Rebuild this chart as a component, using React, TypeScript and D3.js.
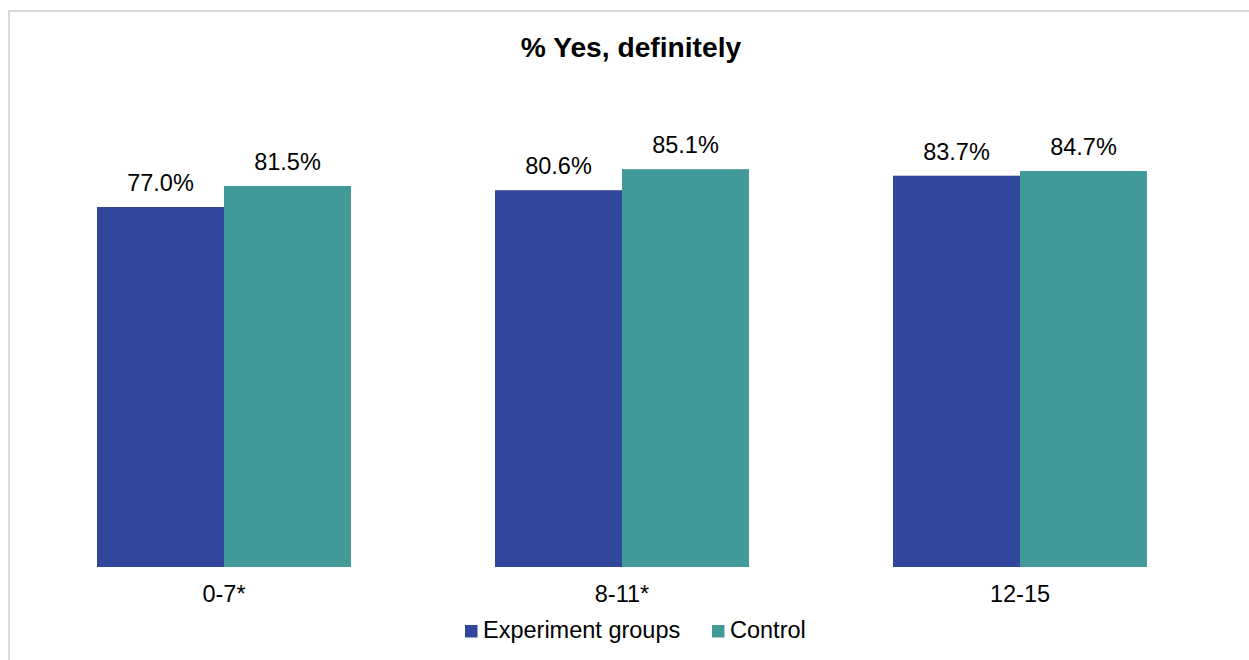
import React from "react";
import * as d3 from "d3";

const categories = ["0-7*", "8-11*", "12-15"];
const seriesNames = ["Experiment groups", "Control"];
const experimentValues = [77.0, 80.6, 83.7];
const controlValues = [81.5, 85.1, 84.7];
const colors = ["#30479B", "#429A98"];

const W = 1249;
const H = 660;
const FONT = "'Liberation Sans', Arial, Helvetica, sans-serif";

export default function App() {
  const x = d3
    .scaleBand<string>()
    .domain(categories)
    .range([25, 1219])
    .paddingInner(0.3618)
    .paddingOuter(0.1809);
  const sub = d3
    .scaleBand<string>()
    .domain(seriesNames)
    .range([0, x.bandwidth()])
    .padding(0);
  const y = d3.scaleLinear().domain([0, 100]).range([567, 99.5]);
  const series = [experimentValues, controlValues];

  return (
    <svg
      width={W}
      height={H}
      style={{ position: "absolute", left: 0, top: 0, background: "#fff" }}
      fontFamily={FONT}
    >
      <rect x={0} y={0} width={W} height={H} fill="#fff" />
      <line x1={8} x2={W} y1={11} y2={11} stroke="#d9d9d9" strokeWidth={2} />
      <line x1={9} x2={9} y1={10} y2={H} stroke="#d9d9d9" strokeWidth={2} />
      <text
        x={631}
        y={57}
        textAnchor="middle"
        fontSize={28.2}
        fontWeight="bold"
        fill="#000"
      >
        % Yes, definitely
      </text>
      {categories.map((c, i) => (
        <g key={c}>
          {seriesNames.map((s, j) => {
            const v = series[j][i];
            const bx = (x(c) ?? 0) + (sub(s) ?? 0);
            const bw = sub.bandwidth();
            return (
              <g key={s}>
                <rect
                  x={bx}
                  y={y(v)}
                  width={bw}
                  height={y(0) - y(v)}
                  fill={colors[j]}
                />
                <text
                  x={bx + bw / 2}
                  y={y(v) - 16}
                  textAnchor="middle"
                  fontSize={23.5}
                  fill="#000"
                >
                  {v.toFixed(1)}%
                </text>
              </g>
            );
          })}
          <text
            x={(x(c) ?? 0) + x.bandwidth() / 2}
            y={602}
            textAnchor="middle"
            fontSize={23.5}
            fill="#000"
          >
            {c}
          </text>
        </g>
      ))}
      {/* legend */}
      <g>
        <rect x={465} y={625} width={12.5} height={12.5} fill={colors[0]} />
        <text x={483} y={637.5} fontSize={23.5} fill="#000">
          {seriesNames[0]}
        </text>
        <rect x={712} y={625} width={12.5} height={12.5} fill={colors[1]} />
        <text x={730} y={637.5} fontSize={23.5} fill="#000">
          {seriesNames[1]}
        </text>
      </g>
    </svg>
  );
}
